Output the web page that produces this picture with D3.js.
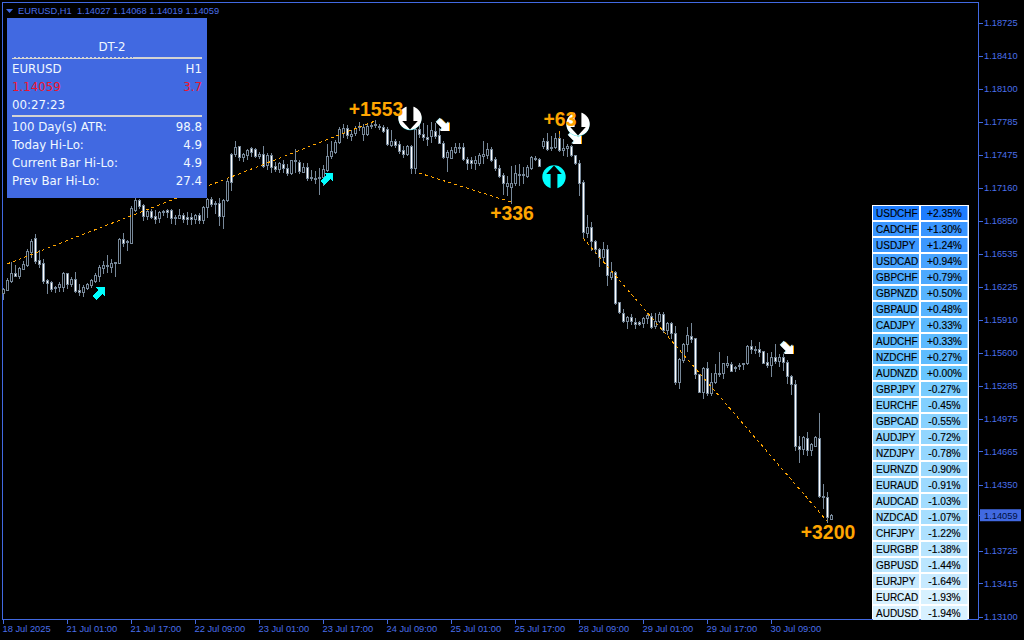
<!DOCTYPE html>
<html><head><meta charset="utf-8">
<script src="https://cdn.jsdelivr.net/npm/d3@7/dist/d3.min.js"></script>
<style>
html,body{margin:0;padding:0;background:#000;overflow:hidden}
svg{display:block}
text{font-family:"Liberation Sans",Arial,sans-serif;white-space:pre}
.axis text{font-size:9.3px;fill:#4A6FEA;font-family:"Liberation Sans",Arial,sans-serif}
.axis line,.axis path{stroke:#4169E1;shape-rendering:crispEdges}
</style></head><body>
<script>
// All prices are in points above 1.00000 (1.14059 => 14059)
const opens=[16163,16192,16277,16353,16324,16391,16429,16552,16684,16476,
16448,16286,16267,16220,16220,16220,16353,16248,16296,16192,
16173,16211,16239,16277,16324,16400,16419,16410,16448,16448,
16675,16646,16637,16949,17044,16996,16892,16940,16892,16873,
16930,16949,16949,16883,16873,16902,16883,16883,16864,16902,
16855,16977,17053,17015,17015,16892,17044,17480,17480,17556,
17451,17470,17537,17527,17461,17480,17376,17470,17366,17338,
17385,17347,17300,17413,17404,17309,17357,17252,17252,17252,
17262,17328,17461,17499,17593,17678,17726,17650,17678,17735,
17669,17669,17745,17754,17735,17735,17716,17565,17603,17575,
17518,17480,17556,17347,17716,17669,17641,17650,17697,17660,
17584,17451,17442,17499,17537,17546,17432,17423,17395,17395,
17461,17470,17527,17432,17347,17281,17177,17167,17205,17281,
17281,17271,17347,17432,17432,17556,17603,17537,17546,17631,
17518,17537,17556,17470,17395,17215,16732,16788,16656,16580,
16504,16580,16315,16362,16078,15974,15898,15936,15889,15889,
15879,15927,15945,15851,15898,15964,15813,15879,15784,15321,
15529,15680,15756,15737,15396,15226,15453,15217,15321,15396,
15406,15482,15491,15453,15472,15491,15500,15661,15624,15633,
15614,15510,15482,15557,15519,15557,15510,15377,15302,14714,
14686,14790,14677,14714,14790,14241,14231,14027];
const highs=[16215,16305,16457,16429,16410,16467,16580,16675,16722,16571,
16485,16296,16277,16230,16267,16362,16353,16315,16362,16248,
16239,16258,16296,16353,16429,16467,16523,16485,16457,16684,
16732,16665,16987,17063,17053,17006,16949,16959,16949,16940,
16949,16959,16959,16902,16959,16921,16930,16921,16911,16921,
16987,17063,17072,17034,17063,17053,17252,17489,17603,17556,
17489,17527,17546,17537,17499,17556,17489,17489,17404,17404,
17423,17385,17423,17527,17423,17395,17395,17328,17319,17347,
17376,17575,17603,17612,17735,17764,17754,17707,17745,17783,
17764,17764,17783,17802,17764,17754,17735,17707,17622,17603,
17556,17565,17565,17735,17783,17773,17754,17783,17773,17726,
17603,17518,17546,17584,17584,17584,17451,17451,17461,17489,
17603,17584,17546,17451,17376,17300,17271,17366,17376,17385,
17357,17376,17461,17461,17442,17631,17678,17650,17678,17697,
17622,17575,17565,17470,17423,17233,16902,16836,16665,16590,
16646,16618,16457,16372,16078,16012,15945,15964,15927,15898,
15936,15974,15974,15974,15983,15983,15889,15889,15851,15548,
15690,15841,15879,15737,15396,15463,15510,15406,15491,15605,
15500,15567,15510,15472,15500,15500,15671,15718,15661,15699,
15614,15595,15605,15680,15586,15586,15529,15387,15339,14809,
14809,14847,14743,14809,15027,14355,14279,14068];
const lows=[16107,16192,16267,16324,16305,16391,16419,16504,16448,16410,
16258,16164,16182,16173,16182,16182,16211,16230,16173,16145,
16135,16201,16220,16267,16277,16353,16362,16362,16324,16448,
16609,16571,16637,16940,16968,16855,16864,16873,16826,16836,
16902,16883,16826,16817,16873,16836,16817,16817,16826,16826,
16826,16883,16987,16921,16807,16779,17034,17139,17461,17423,
17413,17432,17461,17451,17442,17357,17338,17309,17319,17309,
17309,17281,17290,17309,17300,17309,17233,17233,17205,17101,
17186,17319,17442,17489,17584,17641,17631,17612,17660,17707,
17612,17660,17726,17735,17716,17688,17565,17556,17546,17489,
17451,17470,17300,17300,17641,17612,17565,17593,17631,17584,
17442,17319,17442,17489,17499,17423,17338,17347,17338,17376,
17395,17442,17413,17328,17262,17101,17091,17015,17186,17186,
17205,17262,17338,17423,17366,17537,17518,17518,17537,17508,
17470,17461,17461,17385,17091,16694,16694,16571,16542,16419,
16457,16239,16296,16059,15974,15889,15832,15870,15832,15860,
15841,15879,15832,15832,15889,15794,15775,15737,15302,15264,
15510,15614,15699,15358,15226,15169,15198,15198,15311,15377,
15358,15463,15425,15425,15444,15444,15491,15595,15595,15567,
15500,15463,15377,15500,15472,15434,15311,15207,14677,14563,
14639,14629,14629,14714,14231,14127,13995,14019];
const closes=[16201,16286,16353,16324,16400,16438,16561,16656,16467,16438,
16277,16258,16201,16211,16248,16353,16248,16296,16182,16173,
16220,16248,16286,16334,16410,16429,16429,16448,16457,16675,
16637,16656,16968,17044,16987,16892,16940,16883,16864,16930,
16940,16930,16873,16873,16902,16864,16864,16864,16902,16855,
16977,17053,17006,17006,16892,17044,17224,17215,17546,17451,
17480,17518,17499,17461,17480,17366,17470,17357,17338,17395,
17347,17300,17423,17423,17319,17357,17252,17262,17243,17262,
17338,17461,17508,17593,17716,17726,17660,17669,17726,17745,
17735,17745,17754,17764,17745,17697,17575,17603,17565,17508,
17480,17556,17347,17716,17669,17641,17622,17707,17650,17584,
17451,17499,17518,17546,17546,17432,17395,17395,17423,17470,
17480,17527,17423,17347,17271,17205,17205,17205,17300,17290,
17290,17357,17451,17442,17366,17603,17527,17546,17631,17518,
17537,17556,17470,17395,17205,16741,16788,16656,16580,16504,
16580,16334,16362,16069,15983,15898,15936,15898,15870,15870,
15927,15955,15841,15898,15964,15813,15879,15784,15321,15538,
15680,15766,15728,15396,15226,15453,15217,15321,15406,15406,
15500,15500,15425,15463,15482,15500,15661,15633,15633,15605,
15500,15482,15557,15519,15557,15510,15377,15302,14714,14686,
14800,14677,14733,14800,14241,14231,14042,14059];

const priceTicks=[18725,18410,18100,17785,17475,17160,16850,16535,16225,15910,15600,15285,14975,14665,14350,13725,13415,13100];
const currentPrice=14059;
const dateBars=[0,16,32,48,64,80,96,112,128,144,160,176,192];
const dateLabels=["18 Jul 2025","21 Jul 01:00","21 Jul 17:00","22 Jul 09:00","23 Jul 01:00","23 Jul 17:00","24 Jul 09:00","25 Jul 01:00","25 Jul 17:00","28 Jul 09:00","29 Jul 01:00","29 Jul 17:00","30 Jul 09:00"];

// [startBar,startPrice,endBar,endPrice]
const trendLines=[[1,16438,93,17792],[104,17300,127,17025],[139,17697,139,17631],[145,16684,206,14004]];
// [bar,price,text]
const profitLabels=[[93,17844,"+1553"],[127,16855,"+336"],[139,17745,"+63"],[206,13834,"+3200"]];
const upArrows=[[24,16163],[81,17243]];
const downArrows=[[110,17754],[143,17631],[196,15643]];
const circleDown=[[102,17821],[144,17764]];
const circleUp=[[138,17262]];

const pairs=["USDCHF","CADCHF","USDJPY","USDCAD","GBPCHF","GBPNZD","GBPAUD","CADJPY","AUDCHF","NZDCHF","AUDNZD","GBPJPY","EURCHF","GBPCAD","AUDJPY","NZDJPY","EURNZD","EURAUD","AUDCAD","NZDCAD","CHFJPY","EURGBP","GBPUSD","EURJPY","EURCAD","AUDUSD"];
const pairChanges=[2.35,1.30,1.24,0.94,0.79,0.50,0.48,0.33,0.33,0.27,0.00,-0.27,-0.45,-0.55,-0.72,-0.78,-0.90,-0.91,-1.03,-1.07,-1.22,-1.38,-1.44,-1.64,-1.93,-1.94];

const panelLeft=["EURUSD","1.14059","00:27:23","100 Day(s) ATR:","Today Hi-Lo:","Current Bar Hi-Lo:","Prev Bar Hi-Lo:"];
const panelRight=["H1","3.7","","98.8","4.9","4.9","27.4"];
const panelRows=[69,87,105,127,145,163,181];

const W=1024,H=640;
const svg=d3.select("body").append("svg").attr("width",W).attr("height",H).style("background","#000");
const x=d3.scaleLinear().domain([0,207]).range([3,831]);
const y=d3.scaleLinear().domain([13100,18725]).range([616.5,22.5]);
const BLUE="#4169E1",GRAY="#778899",ORANGE="#FFA500";
const px=v=>Math.round(y(v));

// frame
svg.append("rect").attr("x",2.5).attr("y",2.5).attr("width",976).attr("height",617)
  .attr("fill","none").attr("stroke",BLUE).attr("shape-rendering","crispEdges");

// candles
const candles=d3.range(opens.length).map(i=>({i,o:opens[i],h:highs[i],l:lows[i],c:closes[i]}));
const cg=svg.append("g").attr("shape-rendering","crispEdges");
cg.selectAll("line").data(candles).join("line")
  .attr("x1",d=>x(d.i)+.5).attr("x2",d=>x(d.i)+.5)
  .attr("y1",d=>px(d.h)).attr("y2",d=>px(d.l)+1)
  .attr("stroke",GRAY);
cg.selectAll("rect").data(candles).join("rect")
  .attr("x",d=>x(d.i)-.5).attr("width",2)
  .attr("y",d=>px(Math.max(d.o,d.c))+.5)
  .attr("height",d=>Math.max(0,px(Math.min(d.o,d.c))-px(Math.max(d.o,d.c))))
  .attr("fill",d=>d.c<d.o?"#fff":"#000").attr("stroke",GRAY);

// dotted trend lines
svg.append("g").attr("shape-rendering","crispEdges").selectAll("line").data(trendLines).join("line")
  .attr("x1",d=>x(d[0])).attr("y1",d=>y(d[1])).attr("x2",d=>x(d[2])).attr("y2",d=>y(d[3]))
  .attr("stroke",ORANGE).attr("stroke-width",1).attr("stroke-dasharray","3 3.2");

// diagonal arrows
const arrowPath="M-3,-6L6,-6L6,3L3.5,.5L-2.5,6.5L-6.5,2.5L-.5,-3.5Z";
svg.append("g").selectAll("path").data(upArrows).join("path")
  .attr("d",arrowPath).attr("fill","#00FFFF").attr("shape-rendering","crispEdges")
  .attr("transform",d=>`translate(${x(d[0])},${y(d[1])})`);
const dg=svg.append("g").selectAll("g").data(downArrows).join("g")
  .attr("transform",d=>`translate(${x(d[0])},${y(d[1])}) scale(1,-1)`);
dg.append("path").attr("d",arrowPath).attr("fill",ORANGE).attr("transform","translate(1,0)");
dg.append("path").attr("d",arrowPath).attr("fill","#BFF4FF").attr("transform","translate(-.8,.8)");
dg.append("path").attr("d",arrowPath).attr("fill","#fff");

// circle arrows
const circleArrow=(data,fill,dir)=>{
  const g=svg.append("g").selectAll("g").data(data).join("g")
    .attr("transform",d=>`translate(${x(d[0])-1},${y(d[1])}) scale(1,${dir})`);
  if(dir===1) g.append("circle").attr("cy",.8).attr("r",11.4).attr("fill","#3FE0E8");
  g.append("circle").attr("r",11.7).attr("fill",fill);
  g.append("path").attr("d","M-3.4,-12.5L3.4,-12.5L3.4,3L7.8,3L0,11.5L-7.8,3L-3.4,3Z").attr("fill","#000");
};
circleArrow(circleDown,"#fff",1);
circleArrow(circleUp,"#00FFFF",-1);

// profit labels
svg.append("g").selectAll("text").data(profitLabels).join("text")
  .attr("x",d=>x(d[0])+1).attr("y",d=>y(d[1])).attr("text-anchor","middle")
  .attr("fill",ORANGE).attr("font-size",19.4).attr("font-weight",700)
  .text(d=>d[2]);

// axes
const yAxis=d3.axisRight(y).tickValues(priceTicks.concat([currentPrice])).tickSize(4).tickPadding(1.5)
  .tickFormat(d=>(d/1e5+1).toFixed(5));
svg.append("g").attr("class","axis").attr("transform","translate(978.5,0)").call(yAxis)
  .call(g=>g.select(".domain").remove());
const xAxis=d3.axisBottom(x).tickValues(dateBars).tickSize(4).tickPadding(2)
  .tickFormat((d,i)=>dateLabels[i]);
svg.append("g").attr("class","axis").attr("transform","translate(0,619.5)").call(xAxis)
  .call(g=>g.select(".domain").remove())
  .call(g=>g.selectAll("text").attr("text-anchor","start").attr("dx",-1));

// current price tag
const yc=y(currentPrice);
svg.append("rect").attr("x",980).attr("y",yc-6).attr("width",41).attr("height",12).attr("fill",BLUE);
svg.append("text").attr("x",984).attr("y",yc+3.5).attr("font-size",9.3).attr("fill","#001040")
  .text((currentPrice/1e5+1).toFixed(5));

// header
svg.append("path").attr("d","M6,9L13,9L9.5,13Z").attr("fill",BLUE);
svg.append("text").attr("x",18).attr("y",14).attr("font-size",9.3).attr("fill","#4A6FEA")
  .text("EURUSD,H1  1.14027 1.14068 1.14019 1.14059");

// info panel
const panel=svg.append("g");
panel.append("rect").attr("x",7).attr("y",18).attr("width",200).attr("height",180).attr("fill",BLUE);
const panelFont='"DejaVu Sans",sans-serif';
panel.append("text").attr("x",112).attr("y",51).attr("text-anchor","middle").attr("font-size",11.8)
  .style("font-family",panelFont).attr("fill","#F0F8FF").text("DT-2");
[57,115].forEach(v=>panel.append("rect").attr("x",12).attr("y",v).attr("width",190).attr("height",2).attr("fill","#D3D3D3"));
panel.append("line").attr("x1",12).attr("x2",133).attr("y1",57.5).attr("y2",57.5)
  .attr("stroke",BLUE).attr("stroke-dasharray","2 2").attr("shape-rendering","crispEdges");
panelLeft.forEach((t,i)=>{
  const col=i===1?"#F0142D":"#F0F8FF";
  panel.append("text").attr("x",12).attr("y",panelRows[i]+4).attr("font-size",11.8)
    .style("font-family",panelFont).attr("fill",col).text(t);
  if(panelRight[i]) panel.append("text").attr("x",202).attr("y",panelRows[i]+4).attr("text-anchor","end")
    .attr("font-size",11.8).style("font-family",panelFont).attr("fill",col).text(panelRight[i]);
});

// currency strength table
const color=d3.scaleLinear().domain([2.35,1.30,0,-1.94]).range(["#1E7DFF","#3A96FF","#68C6FF","#D8F1FF"]);
const rowY=d3.scaleLinear().domain([0,25]).range([206,606]);
const tg=svg.append("g").attr("shape-rendering","crispEdges");
tg.append("rect").attr("x",872).attr("y",205).attr("width",96.5).attr("height",414).attr("fill","#fff");
const rows=svg.append("g").selectAll("g").data(pairs).join("g")
  .attr("transform",(d,i)=>`translate(0,${rowY(i)})`);
rows.append("rect").attr("x",873).attr("width",46).attr("height",14).attr("fill",(d,i)=>color(pairChanges[i]));
rows.append("rect").attr("x",921).attr("width",46.5).attr("height",14).attr("fill",(d,i)=>color(pairChanges[i]));
rows.append("text").attr("x",876).attr("y",11).attr("font-size",10).attr("fill","#000").attr("stroke","#000").attr("stroke-width",.15).text(d=>d);
rows.append("text").attr("x",944.5).attr("y",11).attr("text-anchor","middle").attr("font-size",10.2).attr("fill","#000").attr("stroke","#000").attr("stroke-width",.15)
  .text((d,i)=>(pairChanges[i]>=0?"+":"-")+Math.abs(pairChanges[i]).toFixed(2)+"%");
</script>
</body></html>
